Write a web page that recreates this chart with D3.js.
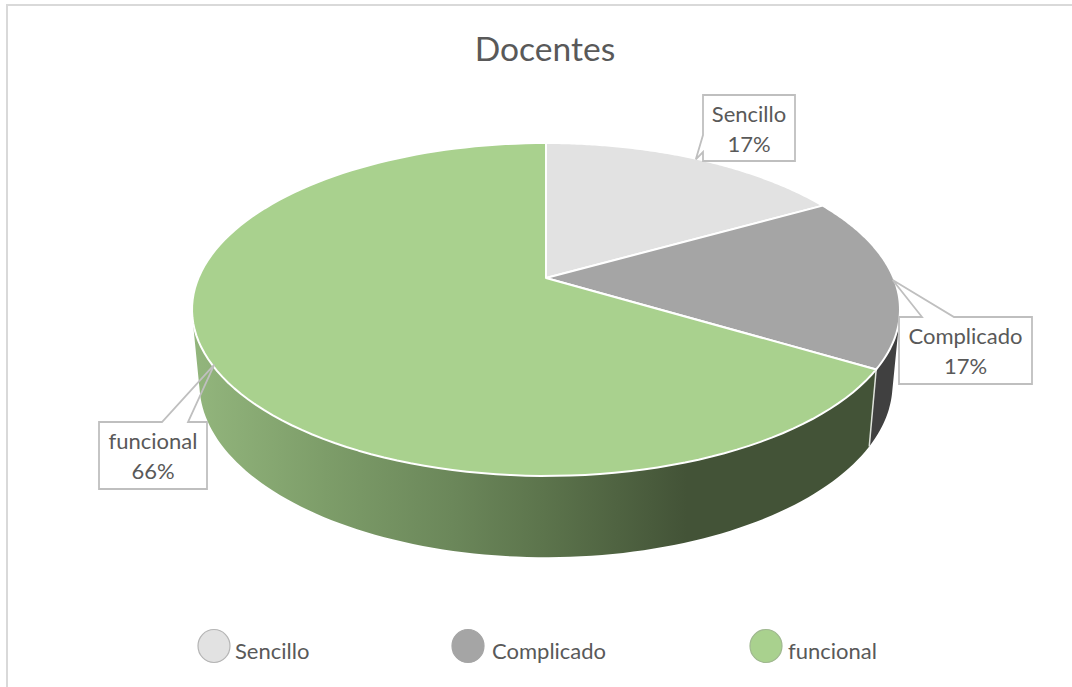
<!DOCTYPE html>
<html><head><meta charset="utf-8">
<script src="https://cdn.jsdelivr.net/npm/d3@7"></script>
<style>html,body{margin:0;padding:0;background:#fff}svg{display:block}text{font-family:Lato,Carlito,sans-serif;fill:#595959}</style>
</head><body><svg id="c" width="1072" height="687"></svg>
<script>
const title = "Docentes";
const categories = ["Sencillo", "Complicado", "funcional"];
const values = [16.8, 16.8, 66.4];
const topColors = ["#e2e2e2", "#a5a5a5", "#a9d18e"];
const legendStroke = ["#b5b5b5", "#a5a5a5", "#a0b890"];

const svg = d3.select("#c");

// perspective disc projection (top and bottom faces of the pie)
const topFace = {x0:546, y0:278, a:347.6, b:160.5, k:0.189};
const botFace = {x0:546, y0:351.3, a:340.3, b:167, k:0.189};
const proj = (f, ang, r=1) => {
  const u = r*Math.sin(ang), v = -r*Math.cos(ang), w = 1 - f.k*v;
  return [f.x0 + f.a*u/w, f.y0 + f.b*v/w];
};
const line = d3.line();
const arcPts = (f, a0, a1) => d3.range(0, 121).map(i => proj(f, a0 + (a1-a0)*i/120));

const arcs = d3.pie().sort(null).value(d => d)(values);

// frame: only the top and left rules show in the picture
svg.append("path").attr("d", "M7,687V5H1072").attr("fill","none")
  .attr("stroke","#d9d9d9").attr("stroke-width",2);

// side gradient
const defs = svg.append("defs");
const grad = defs.append("linearGradient").attr("id","side").attr("gradientUnits","userSpaceOnUse")
  .attr("x1",191).attr("x2",899).attr("y1",0).attr("y2",0);
[[0,"#93b67d"],[0.19,"#7d9d69"],[0.37,"#6b875a"],[0.5,"#5c744c"],[0.7,"#435337"],[1,"#435337"]]
  .forEach(s => grad.append("stop").attr("offset",s[0]).attr("stop-color",s[1]));

const sideFill = ["#404040", "#404040", "url(#side)"];
const PI = Math.PI;
// side walls: union of small quads joining the top and bottom rims, so the
// straight silhouette edges at the far left and right are filled too
const g = svg.append("g");
[2,1].forEach(i => {
  const d = arcs[i];
  const a0 = Math.max(d.startAngle, PI*0.35), a1 = Math.min(d.endAngle, PI*1.65);
  const T = arcPts(topFace, a0, a1), B = arcPts(botFace, a0, a1);
  let path = "";
  for (let j = 0; j < T.length-1; j++) {
    const q = [T[j], T[j+1], B[j+1], B[j]];
    path += line(d3.polygonArea(q) < 0 ? q.reverse() : q) + "Z";
  }
  g.append("path").attr("d", path).attr("fill", sideFill[i]);
});
// seam between the walls
const seam = arcs[2].startAngle;
g.append("path").attr("d", line([proj(topFace,seam), proj(botFace,seam)]))
  .attr("stroke","#dfe3dc").attr("stroke-width",1.5).attr("fill","none");

// top slices
const center = [topFace.x0, topFace.y0];
g.selectAll("path.slice").data(arcs).join("path").attr("class","slice")
  .attr("d", d => line([center, ...arcPts(topFace, d.startAngle, d.endAngle)])+"Z")
  .attr("fill", (d,i) => topColors[i])
  .attr("stroke","#fff").attr("stroke-width",2).attr("stroke-linejoin","round");

// data-label callouts
const boxes = [
  {x:703, y:95, w:92, h:66, side:"left", p0:135, p1:152},
  {x:899, y:317, w:133, h:67, side:"top", p0:922, p1:954},
  {x:99, y:422, w:108, h:67, side:"top", p0:162, p1:188}
];
arcs.forEach((d,i) => {
  const b = boxes[i], tip = proj(topFace, (d.startAngle+d.endAngle)/2, 0.995);
  const r = b.x+b.w, bt = b.y+b.h;
  const pts = b.side === "left"
    ? [[b.x,b.y],[r,b.y],[r,bt],[b.x,bt],[b.x,b.p1],tip,[b.x,b.p0]]
    : [[b.x,b.y],[b.p0,b.y],tip,[b.p1,b.y],[r,b.y],[r,bt],[b.x,bt]];
  g.append("path").attr("d", line(pts)+"Z").attr("fill","none")
    .attr("stroke","#bfbfbf").attr("stroke-width",1.8).attr("stroke-linejoin","miter");
  const t = g.append("text").attr("text-anchor","middle").attr("font-size",22);
  t.append("tspan").attr("x",b.x+b.w/2).attr("y",b.y+27).text(categories[i]);
  t.append("tspan").attr("x",b.x+b.w/2).attr("y",b.y+57).text(d3.format(".0f")(d.data)+"%");
});

// title
svg.append("text").attr("x",545).attr("y",61).attr("text-anchor","middle")
  .attr("font-size",33.6).text(title);

// legend
const legendX = [214, 468, 766], legendTextX = [235, 492, 788];
categories.forEach((c,i) => {
  svg.append("ellipse").attr("cx",legendX[i]).attr("cy",646).attr("rx",16).attr("ry",16.5)
    .attr("fill",topColors[i]).attr("stroke",legendStroke[i]).attr("stroke-width",1.2);
  svg.append("text").attr("x",legendTextX[i]).attr("y",659).attr("font-size",22).text(c);
});
</script></body></html>
